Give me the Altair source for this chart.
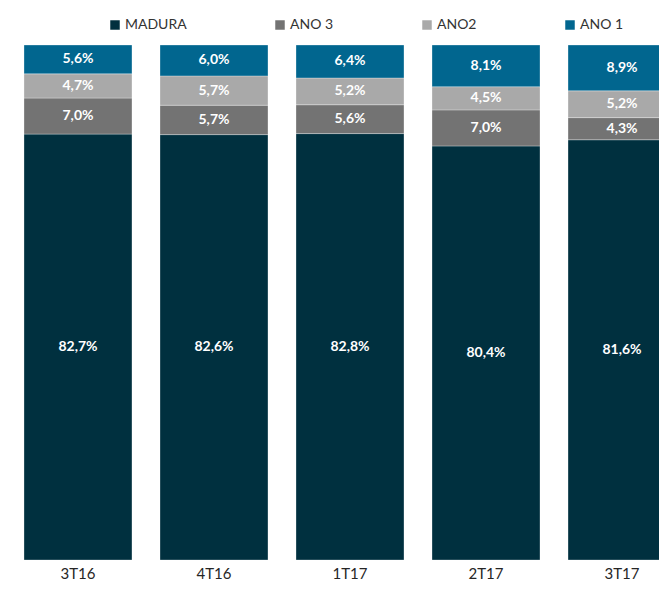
import altair as alt
import pandas as pd

periods = ["3T16", "4T16", "1T17", "2T17", "3T17"]
series = ["MADURA", "ANO 3", "ANO2", "ANO 1"]
madura = [82.7, 82.6, 82.8, 80.4, 81.6]
ano3 = [7.0, 5.7, 5.6, 7.0, 4.3]
ano2 = [4.7, 5.7, 5.2, 4.5, 5.2]
ano1 = [5.6, 6.0, 6.4, 8.1, 8.9]
colors = ["#00303F", "#737373", "#A9A9A9", "#01668F"]

rows = []
for i, p in enumerate(periods):
    for k, (s, vals) in enumerate(zip(series, [madura, ano3, ano2, ano1])):
        rows.append({"periodo": p, "serie": s, "valor": vals[i], "ordem": k})
df = pd.DataFrame(rows)

x_enc = alt.X(
    "periodo:N",
    sort=periods,
    scale=alt.Scale(range=[0, 684], paddingInner=0.206, paddingOuter=0.1176),
    axis=alt.Axis(
        title=None, labelAngle=0, domain=False, ticks=False,
        labelFontSize=15, labelColor="#262626", labelPadding=6, labelFont="Lato",
    ),
)

base = alt.Chart(df)

bars = base.mark_bar(clip=True, stroke="white", strokeWidth=0.5, strokeOpacity=0.6).encode(
    x=x_enc,
    y=alt.Y("valor:Q", stack="zero", scale=alt.Scale(domain=[0, 100], nice=False, zero=True), axis=None),
    color=alt.Color(
        "serie:N",
        scale=alt.Scale(domain=series, range=colors),
        legend=alt.Legend(
            title=None, orient="none", legendX=100, legendY=-27,
            direction="horizontal", symbolType="square", symbolSize=90,
            labelFontSize=14, labelFont="Lato", labelColor="#333333",
            columnPadding=86, labelOffset=3, padding=0, symbolStrokeWidth=0,
            gridAlign="each",
        ),
    ),
    order=alt.Order("ordem:Q", sort="ascending"),
)

labels = base.transform_stack(
    stack="valor", groupby=["periodo"],
    sort=[alt.SortField("ordem", order="ascending")],
    as_=["y0", "y1"],
).transform_calculate(
    mid="(datum.y0 + datum.y1) / 2",
    rotulo="replace(format(datum.valor, '.1f'), '.', ',') + '%'",
).mark_text(
    clip=True, color="white", font="Lato", fontSize=14, fontWeight="bold"
).encode(
    x=alt.X("periodo:N", sort=periods),
    y=alt.Y("mid:Q"),
    text="rotulo:N",
)

chart = alt.layer(bars, labels).properties(
    width=651, height=515,
    autosize=alt.AutoSizeParams(type="none"),
    padding={"top": 37, "left": 0, "right": 0, "bottom": 21},
).configure_view(stroke=None)

chart.save("out.html", embed_options={"renderer": "svg", "actions": False})
